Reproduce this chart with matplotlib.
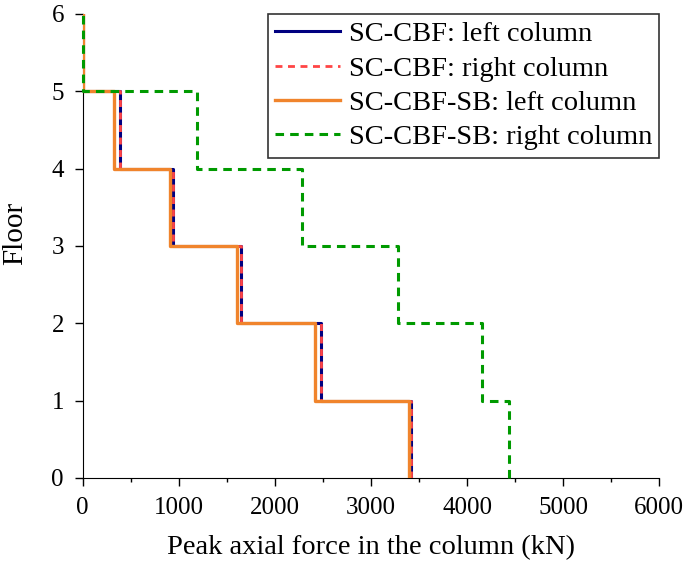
import numpy as np
import matplotlib
matplotlib.use("Agg")
import matplotlib.pyplot as plt
from matplotlib.ticker import MultipleLocator

plt.rcParams['font.family'] = ['Liberation Serif', 'DejaVu Serif']

floors = [0, 1, 2, 3, 4, 5, 6]
# peak axial force for each storey (floor i to i+1)
sc_cbf_left = [3420, 2475, 1650, 935, 388, 0]
sc_cbf_right = [3420, 2475, 1650, 935, 388, 0]
sc_cbf_sb_left = [3396, 2415, 1608, 905, 325, 0]
sc_cbf_sb_right = [4432, 4150, 3280, 2278, 1190, 0]

labels = ["SC-CBF: left column", "SC-CBF: right column",
          "SC-CBF-SB: left column", "SC-CBF-SB: right column"]


def step_path(forces):
    xs = np.repeat(forces, 2)
    ys = np.repeat(floors, 2)[1:-1]
    return xs, ys


fig = plt.figure(figsize=(6.85, 5.64), dpi=100)
ax = fig.add_axes([0.1207, 0.1525, 0.8418, 0.8227])

x, y = step_path(sc_cbf_left)
ax.plot(x, y, color='#000080', lw=2.2, ls='-', label=labels[0], zorder=3)
x, y = step_path(sc_cbf_right)
ax.plot(x, y, color='#ff4545', lw=2.0, ls=(0, (2.5, 2.0)), label=labels[1], zorder=4)
x, y = step_path(sc_cbf_sb_left)
ax.plot(x, y, color='#f0842c', lw=2.4, ls='-', label=labels[2], zorder=5)
x, y = step_path(sc_cbf_sb_right)
ax.plot(x, y, color='#009a00', lw=2.2, ls=(0, (2.8, 2.0)), label=labels[3], zorder=6, clip_on=False)

ax.set_xlim(0, 6000)
ax.set_ylim(0, 6)
ax.xaxis.set_major_locator(MultipleLocator(1000))
ax.xaxis.set_minor_locator(MultipleLocator(500))
ax.yaxis.set_major_locator(MultipleLocator(1))
ax.spines['top'].set_visible(False)
ax.spines['right'].set_visible(False)
ax.tick_params(axis='both', which='major', direction='out', length=5.5, width=1,
               labelsize=18, colors='black', pad=8)
ax.tick_params(axis='x', which='minor', direction='out', length=3, width=1)

ax.set_xlabel("Peak axial force in the column (kN)", fontsize=20.5, va='center')
ax.xaxis.set_label_coords(0.5, -0.151)
ax.set_ylabel("Floor", fontsize=21, va='center')
ax.yaxis.set_label_coords(-0.117, 0.527)

leg = ax.legend(loc='upper right', fontsize=20.5, frameon=True, fancybox=False,
                edgecolor='black', borderaxespad=0.0, handlelength=2.3,
                handletextpad=0.3, labelspacing=0.3, borderpad=0.25)
leg.get_frame().set_linewidth(1.2)

fig.savefig("out.png", dpi=100)
